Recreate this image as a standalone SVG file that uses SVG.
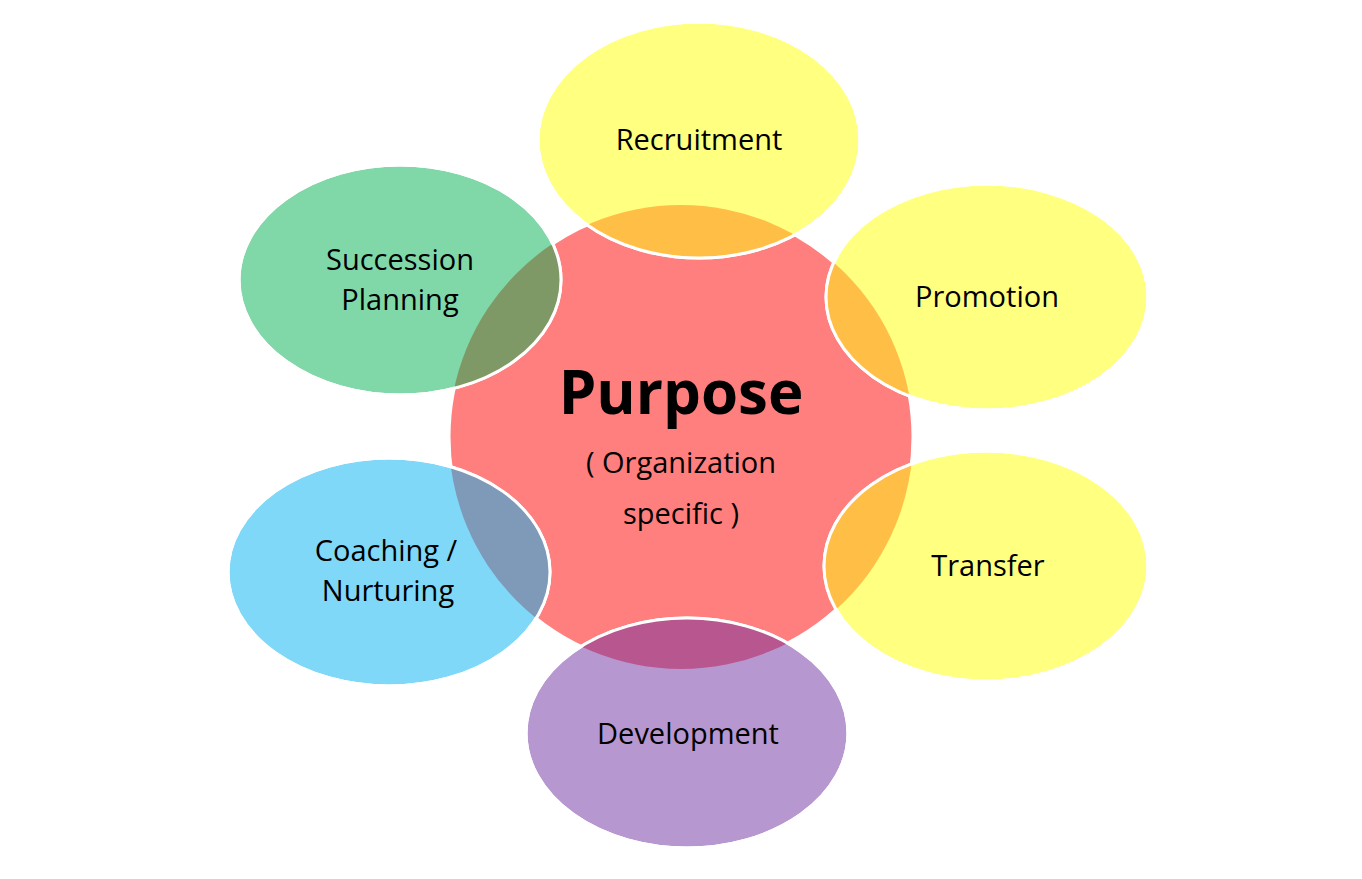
<svg xmlns="http://www.w3.org/2000/svg" width="1362" height="879" viewBox="0 0 1362 879">
<style>
.lbl{font-family:"Open Sans","Liberation Sans",sans-serif;font-size:29px;fill:#000;text-anchor:middle}
.ring{stroke:#fff;stroke-width:3}
</style>
<defs>
<clipPath id="cc"><circle cx="681" cy="437" r="232"/></clipPath>
</defs>
<rect width="1362" height="879" fill="#fff"/>
<g id="center"><circle class="ring" cx="681" cy="437" r="232" fill="#FF7F7F"/></g>
<g id="recruitment"><ellipse class="ring" cx="699" cy="140" rx="161" ry="118" fill="#FFFF80"/><ellipse cx="699" cy="140" rx="161" ry="118" fill="#FFBF47" clip-path="url(#cc)"/><ellipse cx="699" cy="140" rx="161" ry="118" fill="none" stroke="#fff" stroke-width="3"/><text class="lbl" x="699" y="150">Recruitment</text></g>
<g id="succession"><ellipse class="ring" cx="400" cy="280" rx="161" ry="115" fill="#80D8A8"/><ellipse cx="400" cy="280" rx="161" ry="115" fill="#7F9966" clip-path="url(#cc)"/><ellipse cx="400" cy="280" rx="161" ry="115" fill="none" stroke="#fff" stroke-width="3"/><text class="lbl" x="400" y="270">Succession</text><text class="lbl" x="400" y="310">Planning</text></g>
<g id="promotion"><ellipse class="ring" cx="987" cy="297" rx="161" ry="113" fill="#FFFF80"/><ellipse cx="987" cy="297" rx="161" ry="113" fill="#FFBF47" clip-path="url(#cc)"/><ellipse cx="987" cy="297" rx="161" ry="113" fill="none" stroke="#fff" stroke-width="3"/><text class="lbl" x="987" y="307">Promotion</text></g>
<g id="transfer"><ellipse class="ring" cx="986" cy="566" rx="162" ry="115" fill="#FFFF80"/><ellipse cx="986" cy="566" rx="162" ry="115" fill="#FFBF47" clip-path="url(#cc)"/><ellipse cx="986" cy="566" rx="162" ry="115" fill="none" stroke="#fff" stroke-width="3"/><text class="lbl" x="988" y="576">Transfer</text></g>
<g id="coaching"><ellipse class="ring" cx="389" cy="572" rx="161" ry="114" fill="#80D8F8"/><ellipse cx="389" cy="572" rx="161" ry="114" fill="#7F99B8" clip-path="url(#cc)"/><ellipse cx="389" cy="572" rx="161" ry="114" fill="none" stroke="#fff" stroke-width="3"/><text class="lbl" x="386" y="561">Coaching /</text><text class="lbl" x="388" y="601">Nurturing</text></g>
<g id="development"><ellipse class="ring" cx="687" cy="733" rx="161" ry="115" fill="#B797D0"/><ellipse cx="687" cy="733" rx="161" ry="115" fill="#B8578F" clip-path="url(#cc)"/><ellipse cx="687" cy="733" rx="161" ry="115" fill="none" stroke="#fff" stroke-width="3"/><text class="lbl" x="688" y="744">Development</text></g>
<g id="center-text"><text class="lbl" x="681" y="414" style="font-size:60px;font-weight:bold">Purpose</text><text class="lbl" x="681" y="473">( Organization</text><text class="lbl" x="681" y="524">specific )</text></g>
<g id="connectors"/>
</svg>
